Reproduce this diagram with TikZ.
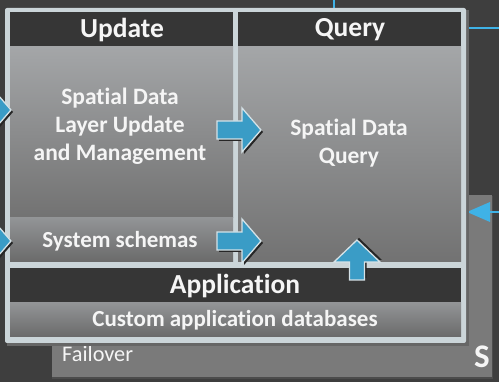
\documentclass[tikz,border=0pt]{standalone}
\usepackage{fontspec}
\setmainfont[Ligatures=NoCommon]{Carlito}
\definecolor{bgdark}{HTML}{3E3E3E}
\definecolor{hdr}{HTML}{363636}
\definecolor{framec}{HTML}{CBD5D9}
\definecolor{failc}{HTML}{7A7A7A}
\definecolor{arrowblue}{HTML}{3A9CC6}
\definecolor{arrowedge}{HTML}{D5E2E7}
\definecolor{linkblue}{HTML}{3FB2E6}
\definecolor{txt}{HTML}{F5F5F5}
\definecolor{bodytop}{HTML}{A4A6A8}
\definecolor{bodybot}{HTML}{727272}
\definecolor{bandtop}{HTML}{929496}
\definecolor{bandbot}{HTML}{6A6A6A}
\tikzset{
  hdrbox/.style={fill=hdr},
  bodybox/.style={top color=bodytop, bottom color=bodybot},
  bandbox/.style={top color=bandtop, bottom color=bandbot},
  hdrtext/.style={text=txt, font=\bfseries\fontsize{27.5}{32}\selectfont, inner sep=0pt},
  bodytext/.style={text=txt, font=\bfseries\fontsize{23.5}{28}\selectfont, align=center, inner sep=0pt},
  bandtext/.style={text=txt, font=\bfseries\fontsize{23}{26}\selectfont, inner sep=0pt},
  blockarrow/.style={fill=arrowblue, draw=arrowedge, line width=1.3pt, line join=miter},
  arrowshadow/.style={fill=black!85},
  rarrow/.pic={
    \fill[arrowshadow] (2,-7) -- (27,-7) -- (27,-20) -- (46,2) -- (27,24) -- (27,11) -- (2,11) -- cycle;
    \path[blockarrow] (0,-9) -- (25,-9) -- (25,-22) -- (44,0) -- (25,22) -- (25,9) -- (0,9) -- cycle;
  },
  uarrow/.pic={
    \fill[arrowshadow] (2,-5.5) -- (20,-5.5) -- (20,-21) -- (42,2) -- (20,25) -- (20,9.5) -- (2,9.5) -- cycle;
    \path[blockarrow] (0,-7.5) -- (18,-7.5) -- (18,-23) -- (40,0) -- (18,23) -- (18,7.5) -- (0,7.5) -- cycle;
  }
}
\begin{document}
\begin{tikzpicture}[x=1pt,y=-1pt]
\useasboundingbox (0,0) rectangle (499,382);
% background
\fill[bgdark] (0,0) rectangle (499,382);
% failover panel behind
\fill[black!70] (52,196) rectangle (493,379);
\fill[failc] (52,195) rectangle (492,377);
\node[text=txt, font=\fontsize{22.3}{26}\selectfont, anchor=west, inner sep=0pt] (failover) at (62,354) {Failover};
\node[text=txt, font=\bfseries\fontsize{33}{36}\selectfont, inner sep=0pt] (sletter) at (482,357) {S};
% blue links
\coordinate (topend) at (334,0);
\coordinate (rightend) at (499,28);
\coordinate (arrowend) at (499,212);
\coordinate (framebottom) at (334,8);
\coordinate (frameright) at (466,28);
\coordinate (frameright2) at (467,212);
\draw[linkblue, line width=1.5pt] (topend) -- (framebottom);
\draw[linkblue, line width=1.5pt] (frameright) -- (rightend);
\draw[linkblue, line width=1.5pt] (arrowend) -- (488,212);
\fill[linkblue] (frameright2) -- (490,202) -- (490,222) -- cycle;
% frame
\fill[black!60] (7,10) rectangle (469,346);
\fill[framec, rounded corners=2pt] (5,8) rectangle (466,343);
% update panel
\fill[hdrbox] (10,12) rectangle (233,47);
\fill[bodybox] (10,47) rectangle (233,218);
\fill[bandbox] (10,218) rectangle (233,262);
% query panel
\fill[hdrbox] (238,12) rectangle (461,47);
\fill[bodybox] (238,47) rectangle (461,262);
% application
\fill[hdrbox] (10,268) rectangle (461,303);
\fill[bandbox] (10,303) rectangle (461,337);
% texts
\node[hdrtext] (update) at (122,30) {Update};
\node[hdrtext] (query) at (350,30) {Query};
\node[bodytext] (sdlu) at (120,126) {Spatial Data\\Layer Update\\and Management};
\node[bodytext] (sdq) at (349,143) {Spatial Data\\Query};
\node[bandtext] (schemas) at (120,241) {System schemas};
\node[hdrtext] (app) at (235,286) {Application};
\node[bandtext] (custom) at (235,320) {Custom application databases};
% block arrows
\pic at (-33,110) {rarrow};
\pic at (-33,241) {rarrow};
\pic at (217,130) {rarrow};
\pic at (217,241) {rarrow};
\pic[rotate=90] at (357,280) {uarrow};
\end{tikzpicture}
\end{document}
